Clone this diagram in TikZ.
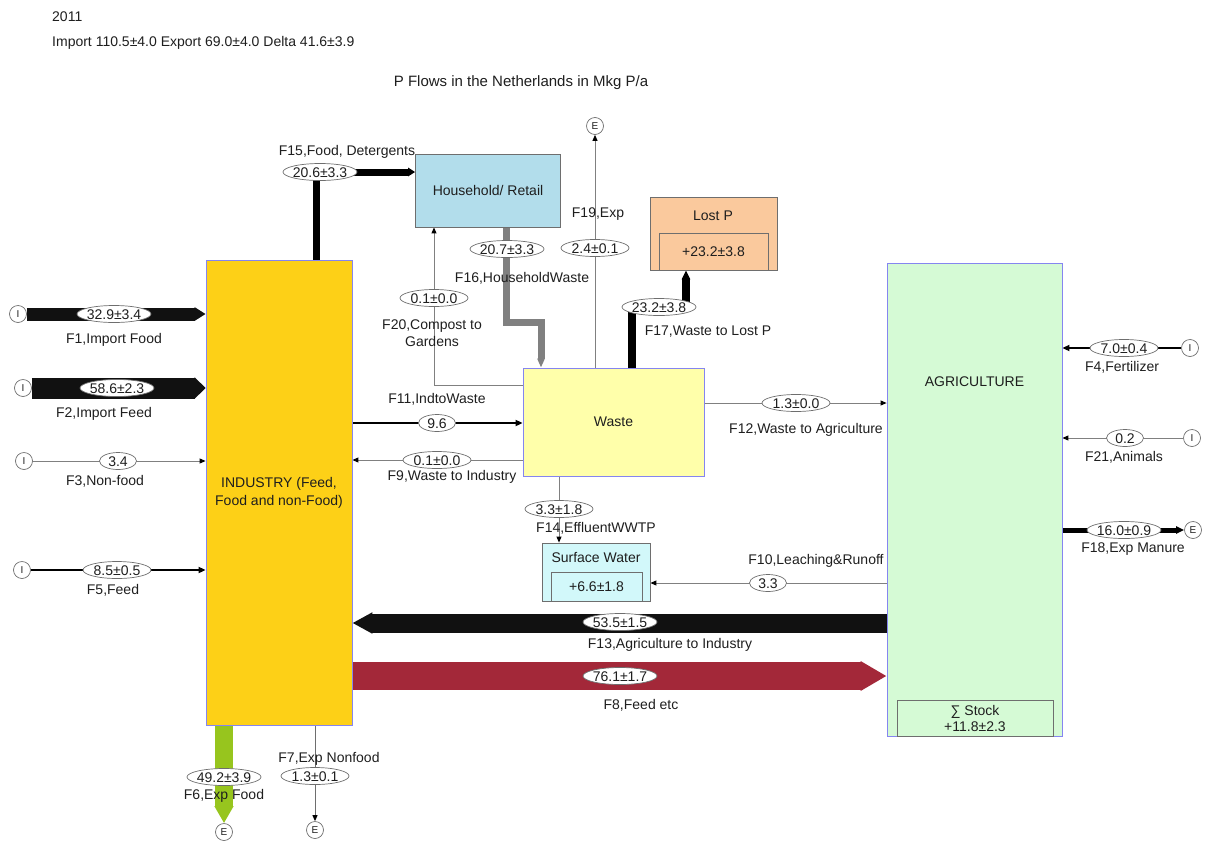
\documentclass[tikz,border=0pt]{standalone}
\usepackage{fontspec}
\setmainfont{Liberation Sans}
\usetikzlibrary{arrows.meta,shapes.geometric}
\pgfdeclarelayer{bg}
\pgfsetlayers{bg,main}
\definecolor{indc}{HTML}{FDD017}
\definecolor{hhc}{HTML}{B2DDEB}
\definecolor{lostc}{HTML}{FAC99D}
\definecolor{wastec}{HTML}{FFFFAA}
\definecolor{surfc}{HTML}{D2F8FA}
\definecolor{agric}{HTML}{D5FAD5}
\definecolor{redc}{HTML}{A32839}
\definecolor{greenc}{HTML}{97C51E}
\definecolor{bluec}{HTML}{8585F0}
\definecolor{linec}{HTML}{808080}
\definecolor{txtc}{HTML}{1E1E1E}
\definecolor{edgec}{HTML}{6E6E6E}
\definecolor{fatc}{HTML}{111111}
\newcommand{\vtxt}[1]{\makebox[0pt][c]{#1}}
\begin{document}
\begin{tikzpicture}[x=1pt,y=-1pt,
  font=\fontsize{14}{18}\selectfont,
  box/.style={rectangle, draw, line width=0.8pt, inner sep=0pt, align=center, text=txtc},
  lbl/.style={inner sep=0pt, align=center, text=txtc},
  val/.style={ellipse, draw=edgec, fill=white, line width=0.7pt, inner sep=0pt, minimum width=#1, minimum height=17pt, text height=10pt, text depth=0pt, text=txtc},
  val/.default=74pt,
  term/.style={circle, draw=edgec, fill=white, line width=0.7pt, minimum size=17pt, inner sep=0pt, font=\fontsize{10}{10}\selectfont, text=txtc},
  thinflow/.style={draw=linec, line width=0.9pt, -{Triangle[length=6pt,width=5pt,color=black]}},
  midflow/.style={draw=black, line width=2pt, -{Triangle[length=7pt,width=6pt]}},
]
\useasboundingbox (0,0) rectangle (1207,841);

% header texts
\node[lbl, anchor=west] (year) at (52,17) {2011};
\node[lbl, anchor=west] (sum) at (52,43) {Import 110.5±4.0 Export 69.0±4.0 Delta 41.6±3.9};
\node[lbl, font=\fontsize{15}{18}\selectfont] (title) at (521,83) {P Flows in the Netherlands in Mkg P/a};

% processes
\node[box, fill=indc, draw=bluec, minimum width=146pt, minimum height=465pt] (ind) at (279,492.5) {INDUSTRY (Feed,\\Food and non-Food)};
\node[box, fill=hhc, draw=edgec, minimum width=145pt, minimum height=73pt] (hh) at (488,190.5) {Household/ Retail};
\node[box, fill=lostc, draw=edgec, minimum width=127pt, minimum height=73pt] (lost) at (713.5,233.5) {};
\node[lbl] (losttxt) at (713,216) {Lost P};
\node[box, fill=lostc, draw=edgec, minimum width=109pt, minimum height=37pt] (lostin) at (713.5,251.5) {+23.2±3.8};
\node[box, fill=wastec, draw=bluec, minimum width=181pt, minimum height=108pt] (waste) at (613.5,422) {Waste};
\node[box, fill=surfc, draw=edgec, minimum width=108pt, minimum height=58pt] (surf) at (596,572) {};
\node[lbl] (surftxt) at (596,557) {Surface Water};
\node[box, fill=surfc, draw=edgec, minimum width=91pt, minimum height=29pt] (surfin) at (596.5,586.5) {+6.6±1.8};
\node[box, fill=agric, draw=bluec, minimum width=175pt, minimum height=473pt] (agri) at (974.5,499.5) {};
\node[lbl] (agritxt) at (974.5,382) {AGRICULTURE};
\node[box, fill=agric, draw=edgec, minimum width=156pt, minimum height=36pt, font=\fontsize{14}{16}\selectfont] (stock) at (975,718) {∑ Stock\\+11.8±2.3};

% sources and sinks
\node[term] (I1) at (18,314) {I};
\node[term] (I2) at (23,388) {I};
\node[term] (I3) at (24,461) {I};
\node[term] (I5) at (22,570) {I};
\node[term] (I4) at (1190,348) {I};
\node[term] (I21) at (1192,438) {I};
\node[term] (E18) at (1193,530) {E};
\node[term] (E19) at (595,126) {E};
\node[term] (E6) at (224,832) {E};
\node[term] (E7) at (315,830) {E};

% flow values
\node[val] (v1) at (114,314) {\vtxt{32.9±3.4}};
\node[val] (v2) at (117,388) {\vtxt{58.6±2.3}};
\node[val=37pt] (v3) at (118,461) {\vtxt{3.4}};
\node[val=68pt] (v5) at (117,570) {\vtxt{8.5±0.5}};
\node[val] (v15) at (320,172) {\vtxt{20.6±3.3}};
\node[val] (v16) at (507,249) {\vtxt{20.7±3.3}};
\node[val=68pt] (v19) at (595,248) {\vtxt{2.4±0.1}};
\node[val=68pt] (v20) at (434,298) {\vtxt{0.1±0.0}};
\node[val] (v17) at (659,307) {\vtxt{23.2±3.8}};
\node[val=37pt] (v11) at (437,423) {\vtxt{9.6}};
\node[val=68pt] (v9) at (437,460) {\vtxt{0.1±0.0}};
\node[val=68pt] (v12) at (796,403) {\vtxt{1.3±0.0}};
\node[val=68pt] (v14) at (559,509) {\vtxt{3.3±1.8}};
\node[val=37pt] (v10) at (768,583) {\vtxt{3.3}};
\node[val] (v13) at (620,622) {\vtxt{53.5±1.5}};
\node[val] (v8) at (620,676) {\vtxt{76.1±1.7}};
\node[val=68pt] (v4) at (1124,348) {\vtxt{7.0±0.4}};
\node[val=37pt] (v21) at (1125,438) {\vtxt{0.2}};
\node[val] (v18) at (1124,530) {\vtxt{16.0±0.9}};
\node[val] (v6) at (224,777) {\vtxt{49.2±3.9}};
\node[val=68pt] (v7) at (315,776) {\vtxt{1.3±0.1}};

% flow labels
\node[lbl] (l1) at (114,340) {F1,Import Food};
\node[lbl] (l2) at (104,414) {F2,Import Feed};
\node[lbl] (l3) at (105,481) {F3,Non-food};
\node[lbl] (l5) at (113,590) {F5,Feed};
\node[lbl] (l15) at (347,152) {F15,Food, Detergents};
\node[lbl] (l16) at (522,278) {F16,HouseholdWaste};
\node[lbl] (l19) at (598,214) {F19,Exp};
\node[lbl, font=\fontsize{14}{17}\selectfont] (l20) at (432,333) {F20,Compost to\\Gardens};
\node[lbl] (l17) at (708,332) {F17,Waste to Lost P};
\node[lbl] (l11) at (437,399) {F11,IndtoWaste};
\node[lbl] (l9) at (452,477) {F9,Waste to Industry};
\node[lbl] (l12) at (806,430) {F12,Waste to Agriculture};
\node[lbl] (l14) at (596,528) {F14,EffluentWWTP};
\node[lbl] (l10) at (816,561) {F10,Leaching\&Runoff};
\node[lbl] (l13) at (670,645) {F13,Agriculture to Industry};
\node[lbl] (l8) at (641,705) {F8,Feed etc};
\node[lbl] (l4) at (1122,367) {F4,Fertilizer};
\node[lbl] (l21) at (1124,457) {F21,Animals};
\node[lbl] (l18) at (1133,549) {F18,Exp Manure};
\node[lbl] (l6) at (224,796) {F6,Exp Food};
\node[lbl] (l7) at (329,759) {F7,Exp Nonfood};

% flows
\begin{pgfonlayer}{bg}
\draw[draw=fatc, line width=13pt, -{Triangle[length=11pt,width=0pt 1]}] (I1.east) -- (I1 -| ind.west);
\draw[draw=fatc, line width=21pt, -{Triangle[length=11pt,width=0pt 1]}] (I2.east) -- (I2 -| ind.west);
\draw[thinflow] (I3.east) -- (I3 -| ind.west);
\draw[midflow] (I5.east) -- (I5 -| ind.west);
\draw[draw=black, line width=7pt, -{Triangle[length=7pt,width=0pt 1.2]}] (ind.north -| 316,0) -- (316,172) -- (hh.west |- 0,172);
\draw[draw=linec, line width=7pt, -{Triangle[length=9pt,width=0pt 1]}] (hh.south -| 506,0) -- (506,322) -- (541,322) -- (waste.north -| 541,0);
\draw[thinflow] (waste.west |- 0,385) -- (434,385) -- (hh.south -| 434,0);
\draw[thinflow] (waste.north -| 595,0) -- (E19.south);
\draw[draw=black, line width=8pt, -{Triangle[length=9pt,width=0pt 1]}] (waste.north -| 632,0) -- (632,307) -- (686,307) -- (lost.south -| 686,0);
\draw[midflow] (ind.east |- 0,423) -- (waste.west |- 0,423);
\draw[thinflow] (waste.west |- 0,460) -- (ind.east |- 0,460);
\draw[thinflow] (waste.east |- 0,403) -- (agri.west |- 0,403);
\draw[thinflow] (waste.south -| 559,0) -- (surf.north -| 559,0);
\draw[thinflow] (agri.west |- 0,583) -- (surf.east |- 0,583);
\draw[draw=fatc, line width=19pt, -{Triangle[length=20pt,width=0pt 1.05]}] (agri.west |- 0,623) -- (ind.east |- 0,623);
\draw[draw=redc, line width=28pt, -{Triangle[length=26pt,width=0pt 1]}] (ind.east |- 0,676) -- (agri.west |- 0,676);
\draw[midflow] (I4.west) -- (I4 -| agri.east);
\draw[thinflow] (I21.west) -- (I21 -| agri.east);
\draw[draw=black, line width=5pt, -{Triangle[length=8pt,width=0pt 1.4]}] (E18 -| agri.east) -- (E18.west);
\draw[draw=greenc, line width=18pt, -{Triangle[length=17pt,width=0pt 1]}] (ind.south -| 224,0) -- (E6.north);
\draw[thinflow, draw=edgec] (ind.south -| 315,0) -- (E7.north);
\end{pgfonlayer}
\end{tikzpicture}
\end{document}
